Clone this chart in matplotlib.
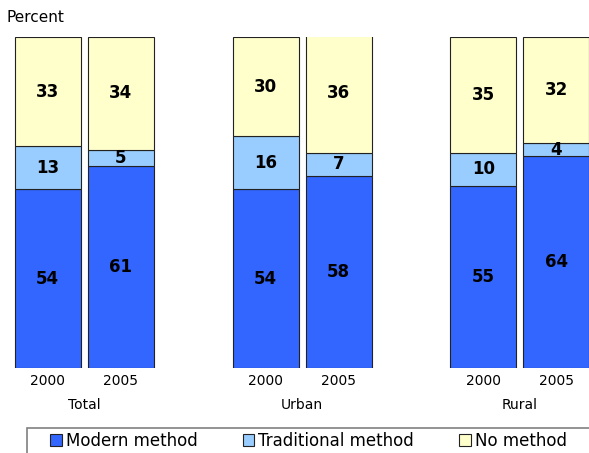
import matplotlib.pyplot as plt
from matplotlib.patches import Patch, Rectangle

# data
groups = ['Total', 'Urban', 'Rural']
years = ['2000', '2005']
modern = [54, 61, 54, 58, 55, 64]
traditional = [13, 5, 16, 7, 10, 4]
no_method = [33, 34, 30, 36, 35, 32]

series = [('Modern method', modern, '#3366FF'),
          ('Traditional method', traditional, '#99CCFF'),
          ('No method', no_method, '#FFFFCC')]

W, H = 589, 453
fig = plt.figure(figsize=(W / 100, H / 100), dpi=100)
ax = fig.add_axes([0, (H - 368) / H, 1, 331 / H])

# bar positions, in units of one bar width
spacing = 3.3
offset = 0.553
xs = []
for g in range(len(groups)):
    xs.append(g * spacing - offset)
    xs.append(g * spacing + offset)

bottom = [0] * len(xs)
for name, vals, color in series:
    ax.bar(xs, vals, width=1.0, bottom=bottom, color=color,
           edgecolor='#222222', linewidth=0.8)
    for x, b, v in zip(xs, bottom, vals):
        ax.text(x, b + v / 2, str(v), ha='center', va='center',
                fontsize=12, fontweight='bold', color='black')
    bottom = [b + v for b, v in zip(bottom, vals)]

ax.set_xlim(-84.25 / 66, (589 - 84.25) / 66)
ax.set_ylim(0, 100)
ax.set_xticks(xs)
ax.set_xticklabels(years * len(groups), fontsize=10)
ax.tick_params(axis='x', length=0, pad=4)
ax.set_yticks([])
for s in ax.spines.values():
    s.set_visible(False)

for g, name in enumerate(groups):
    ax.text(g * spacing, -0.112, name, ha='center', va='center', fontsize=10,
            transform=ax.get_xaxis_transform())

fig.text(6 / W, 1 - 17 / H, 'Percent', ha='left', va='center', fontsize=11)

# legend box runs off the right and bottom edge, as in the source
fig.patches.append(Rectangle((27 / W, -0.05), 1.0, 1 - 428 / H + 0.05,
                             transform=fig.transFigure, fill=False,
                             edgecolor='#808080', linewidth=1.2))
handles = [Patch(facecolor=c, edgecolor='#222222', linewidth=0.8)
           for _, _, c in series]
fig.legend(handles, [n for n, _, _ in series], ncol=3, frameon=False,
           loc='center left', bbox_to_anchor=(50 / W, 1 - 441 / H),
           borderpad=0, borderaxespad=0, handlelength=0.7, handleheight=0.7,
           handletextpad=0.25, columnspacing=2.7, fontsize=12)

fig.savefig('out.png', dpi=100)
